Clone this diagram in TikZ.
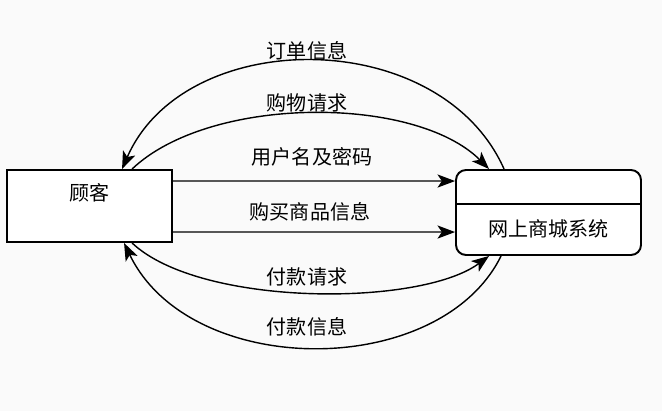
\documentclass[tikz,border=0pt]{standalone}
\usepackage{fontspec}
\newfontfamily\cjk{Noto Sans CJK SC}
\usetikzlibrary{arrows.meta,calc}

\begin{document}
\begin{tikzpicture}[x=0.02cm,y=-0.02cm,
        >={Stealth[length=10pt,width=7.5pt,inset=2.5pt]},
        font=\cjk\fontsize{11.4pt}{14pt}\selectfont,
        entbox/.style={draw,line width=1.1pt,fill=white,minimum width=3.3cm,
                       minimum height=1.44cm,inner sep=0pt},
        sysbox/.style={entbox,rounded corners=0.2cm,minimum width=3.7cm,
                       minimum height=1.7cm},
        flow/.style={->,line width=0.8pt}]
        \useasboundingbox[fill=gray!4] (0,0) rectangle (662,411);

        \node[entbox] (cust) at (89.5,206) {};
        \node (custname) at (89.5,193) {顾客};
        \node[sysbox] (sys) at (548.5,212.5) {};
        \draw[line width=1.1pt] ($(sys.north west)+(0,35)$) -- ($(sys.north east)+(0,35)$);
        \node (sysname) at (548.5,229) {网上商城系统};

        % straight flows
        \draw[flow] ($(cust.north east)+(0,12)$) -- ($(sys.north west)+(0,12)$);
        \draw[flow] ($(cust.north east)+(0,63)$) -- ($(sys.north west)+(0,63)$);
        \node (userpw) at (312,157) {用户名及密码};
        \node (buyinfo) at (310,212) {购买商品信息};

        % curved flows
        \draw[flow] ($(sys.north west)+(49,0)$) .. controls (440,25) and (185,25)
              .. ($(cust.north west)+(116,0)$);
        \draw[flow] ($(cust.north west)+(126,0)$) .. controls (210,95) and (415,95)
              .. ($(sys.north west)+(34,0)$);
        \draw[flow] ($(cust.south west)+(126,0)$) .. controls (200,307) and (420,307)
              .. ($(sys.south west)+(34,0)$);
        \draw[flow] ($(sys.south west)+(46,0)$) .. controls (440,380) and (190,380)
              .. ($(cust.south west)+(118,0)$);
        \node (order) at (307,51) {订单信息};
        \node (shopreq) at (307,103) {购物请求};
        \node (payreq) at (307,277) {付款请求};
        \node (payinfo) at (307,327) {付款信息};
    \end{tikzpicture}
\end{document}
